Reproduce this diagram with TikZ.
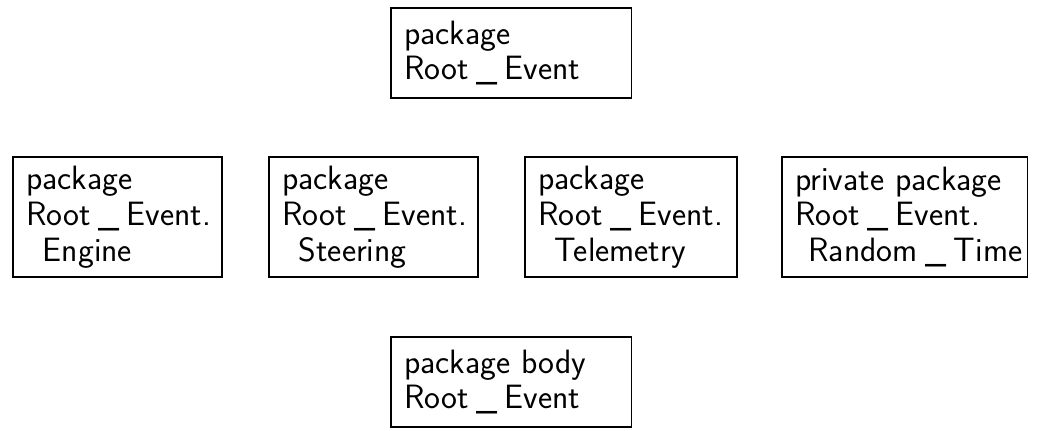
\documentclass[tikz,border=0pt]{standalone}
\usetikzlibrary{positioning}

\begin{document}
\begin{tikzpicture}[
        x=0.025cm, y=-0.025cm,
        pkg/.style={draw, thick, anchor=north west, align=left, inner xsep=0.325cm, inner ysep=0pt,
            text width=#1, font=\sffamily\fontsize{24}{25.5}\selectfont},
        pkg/.default=4.575cm,
        row/.style={minimum height=3cm},
        pair/.style={minimum height=2.25cm},
        every node/.style={outer sep=0pt}
        ]
        \useasboundingbox (0,0) rectangle (1042,430);
        \node[pkg=5.35cm, pair] (root) at (391,8)
            {package\\Root\:\_\:Event};
        \node[pkg, row] (engine) at (13,157)
            {package\\Root\:\_\:Event.\\\hspace*{0.5em}Engine};
        \node[pkg, row] (steering) at (269,157)
            {package\\Root\:\_\:Event.\\\hspace*{0.5em}Steering};
        \node[pkg=4.65cm, row] (telemetry) at (525,157)
            {package\\Root\:\_\:Event.\\\hspace*{0.5em}Telemetry};
        \node[pkg=5.475cm, row] (random) at (782,157)
            {private package\\Root\:\_\:Event.\\\hspace*{0.4em}\rlap{Random\:\_\:Time}};
        \node[pkg=5.35cm, pair] (body) at (391,337)
            {package body\\Root\:\_\:Event};
    \end{tikzpicture}
\end{document}
